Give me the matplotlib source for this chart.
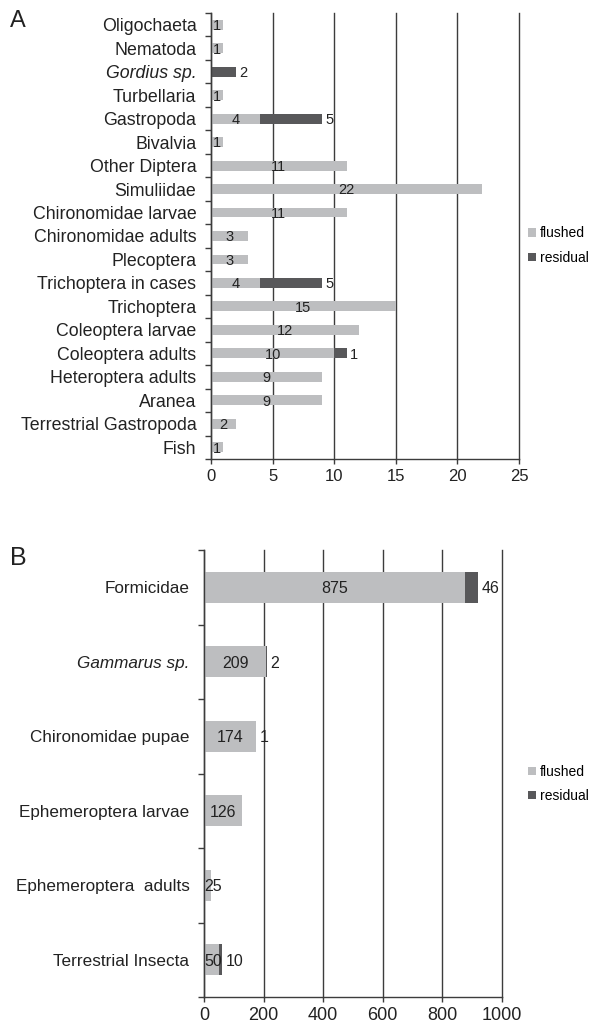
import matplotlib
matplotlib.use('Agg')
import matplotlib.pyplot as plt
import numpy as np
from matplotlib.patches import Patch

plt.rcParams['font.family'] = ['Liberation Sans', 'DejaVu Sans']

# ---------------- data ----------------
cats_a = ["Oligochaeta", "Nematoda", "Gordius sp.", "Turbellaria", "Gastropoda",
          "Bivalvia", "Other Diptera", "Simuliidae", "Chironomidae larvae",
          "Chironomidae adults", "Plecoptera", "Trichoptera in cases", "Trichoptera",
          "Coleoptera larvae", "Coleoptera adults", "Heteroptera adults", "Aranea",
          "Terrestrial Gastropoda", "Fish"]
flushed_a = [1, 1, 0, 1, 4, 1, 11, 22, 11, 3, 3, 4, 15, 12, 10, 9, 9, 2, 1]
residual_a = [0, 0, 2, 0, 5, 0, 0, 0, 0, 0, 0, 5, 0, 0, 1, 0, 0, 0, 0]
xticks_a = [0, 5, 10, 15, 20, 25]

cats_b = ["Formicidae", "Gammarus sp.", "Chironomidae pupae", "Ephemeroptera larvae",
          "Ephemeroptera  adults", "Terrestrial Insecta"]
flushed_b = [875, 209, 174, 126, 25, 50]
residual_b = [46, 2, 1, 0, 0, 10]
xticks_b = [0, 200, 400, 600, 800, 1000]

italic_names = ["Gordius sp.", "Gammarus sp."]
series_names = ["flushed", "residual"]

LIGHT = '#bdbec0'
DARK = '#58585a'
AXC = '#3c3c3c'

W, H = 597, 1025
fig = plt.figure(figsize=(W / 100, H / 100), dpi=100)


def px_rect(l, r, t, b):
    return [l / W, 1 - b / H, (r - l) / W, (b - t) / H]


def draw(ax, cats, fl, res, xticks, fs_cat, fs_val, fs_tick, legend_y):
    n = len(cats)
    y = np.arange(n)
    ax.barh(y, fl, height=0.42, color=LIGHT, zorder=3)
    ax.barh(y, res, left=fl, height=0.42, color=DARK, zorder=3)
    ax.set_ylim(n - 0.5, -0.5)
    ax.set_xlim(xticks[0], xticks[-1])
    ax.set_xticks(xticks)
    ax.set_xticklabels([str(t) for t in xticks], fontsize=fs_tick, color='#222222')
    ax.set_yticks(y)
    ax.set_yticklabels(cats, fontsize=fs_cat, color='#222222')
    for lab in ax.get_yticklabels():
        if lab.get_text() in italic_names:
            lab.set_style('italic')
    ax.set_yticks(np.arange(n + 1) - 0.5, minor=True)
    ax.tick_params(axis='y', which='major', length=0, pad=10.5)
    ax.tick_params(axis='y', which='minor', length=4, width=1, color=AXC, direction='out')
    ax.tick_params(axis='x', which='major', length=3.5, width=1, color=AXC, direction='out', pad=4)
    ax.xaxis.grid(True, color=AXC, linewidth=1, zorder=1)
    ax.set_axisbelow(True)
    for gl in ax.get_xgridlines():
        gl.set_clip_on(False)
    for s in ['top', 'right']:
        ax.spines[s].set_visible(False)
    for s in ['left', 'bottom']:
        ax.spines[s].set_color(AXC)
        ax.spines[s].set_linewidth(1)
        ax.spines[s].set_zorder(4)

    # value labels
    fig.canvas.draw()
    x0px = ax.transData.transform((0, 0))[0]
    x1px = ax.transData.transform((1, 0))[0]
    unit = x1px - x0px
    for i in range(n):
        if fl[i] > 0:
            txt = str(fl[i])
            halfw = 0.3 * len(txt) * fs_val * 100 / 72  # approx half width px
            cx = fl[i] / 2
            if cx * unit < halfw:
                ax.annotate(txt, xy=(0, i), xytext=(0.5, -1), textcoords='offset points',
                            ha='left', va='center', fontsize=fs_val, color='#222222', zorder=5)
            else:
                ax.annotate(txt, xy=(cx, i), xytext=(0, -1), textcoords='offset points',
                            ha='center', va='center', fontsize=fs_val, color='#222222', zorder=5)
        if res[i] > 0:
            ax.annotate(str(res[i]), xy=(fl[i] + res[i], i), xytext=(2.5, -1),
                        textcoords='offset points', ha='left', va='center',
                        fontsize=fs_val, color='#222222', zorder=5)

    handles = [Patch(facecolor=LIGHT, edgecolor='none'), Patch(facecolor=DARK, edgecolor='none')]
    fig.legend(handles, series_names, loc='center left',
               bbox_to_anchor=(528 / W, 1 - legend_y / H), frameon=False, fontsize=10,
               handlelength=0.55, handleheight=0.55, handletextpad=0.3,
               labelspacing=0.75, borderpad=0, borderaxespad=0)


axA = fig.add_axes(px_rect(211, 519, 13, 459))
draw(axA, cats_a, flushed_a, residual_a, xticks_a, 12.8, 10.5, 12, 245.5)

axB = fig.add_axes(px_rect(204, 502, 550, 997))
draw(axB, cats_b, flushed_b, residual_b, xticks_b, 12.3, 11.5, 13, 784)

fig.text(10 / W, 1 - 10 / H, 'A', fontsize=17, va='top', ha='left', color='#222222')
fig.text(10 / W, 1 - 546 / H, 'B', fontsize=18, va='top', ha='left', color='#222222')

fig.savefig('out.png', dpi=100)
